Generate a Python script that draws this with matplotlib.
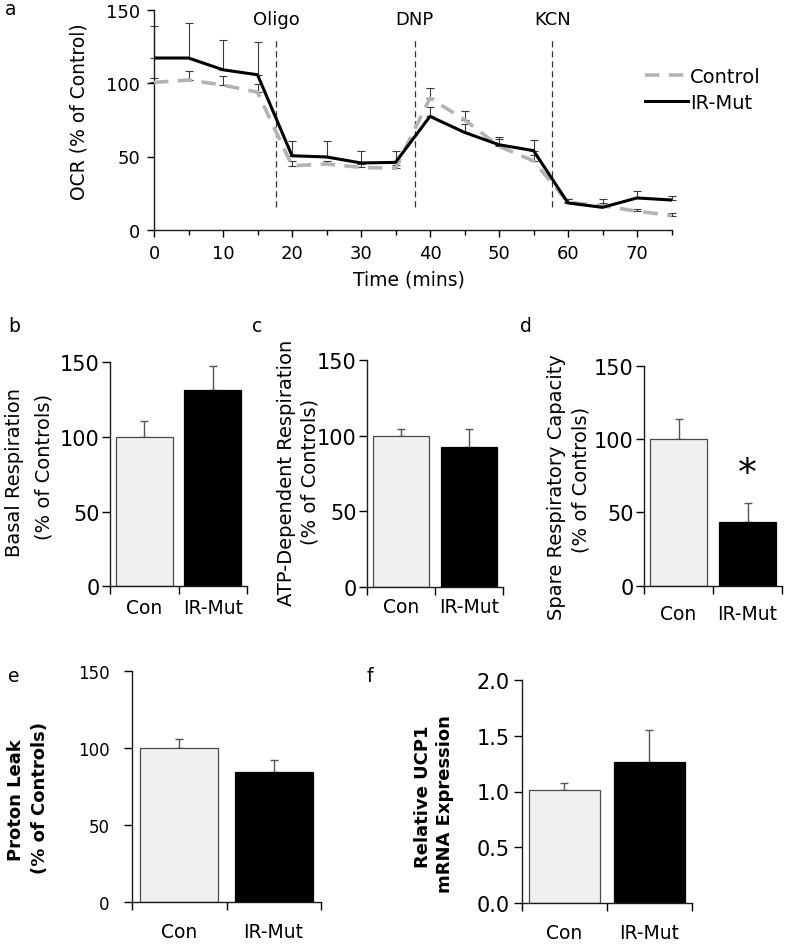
import matplotlib
matplotlib.use('Agg')
import matplotlib.pyplot as plt
from matplotlib.ticker import MultipleLocator

plt.rcParams['font.family'] = ['DejaVu Sans']

# ---------------- data ----------------
time_min = [0, 5, 10, 15, 20, 25, 30, 35, 40, 45, 50, 55, 60, 65, 70, 75]
ctrl_mean = [100.4, 102, 98.6, 93.7, 43.7, 44.9, 42.6, 42, 89.8, 75, 57, 47, 18.8, 16.5, 12.8, 9.8]
ctrl_err = [3, 6.4, 6.4, 5.6, 3, 2, 2, 2, 6.8, 6.2, 5, 4, 2, 2, 1.5, 1.6]
mut_mean = [117, 117, 109, 105.6, 50.5, 49.7, 45.6, 46, 77.3, 66.4, 58, 54, 18.4, 15.4, 21.8, 20.4]
mut_err = [21.5, 24, 20, 22, 10, 10.6, 8.4, 8, 6.6, 5.7, 5, 7, 2.6, 5.6, 4.4, 3]
injections = ['Oligo', 'DNP', 'KCN']
injection_times = [17.7, 37.8, 57.7]

groups = ['Con', 'IR-Mut']
basal = [100, 131.7]
basal_err = [10.5, 15.6]
atp = [99.5, 92.7]
atp_err = [5, 12]
spare = [100, 43.6]
spare_err = [14, 13]
leak = [100, 84.8]
leak_err = [6.3, 7.8]
ucp1 = [1.013, 1.267]
ucp1_err = [0.063, 0.283]

# ---------------- layout helpers ----------------
W, H = 787, 945
fig = plt.figure(figsize=(W / 100, H / 100), dpi=100)
fig.patch.set_facecolor('white')


def add_ax(l, r, t, b):
    return fig.add_axes([l / W, 1 - b / H, (r - l) / W, (b - t) / H])


def ftext(x, y, s, **kw):
    fig.text(x / W, 1 - y / H, s, **kw)


def style(ax):
    for s in ['top', 'right']:
        ax.spines[s].set_visible(False)
    for s in ['left', 'bottom']:
        ax.spines[s].set_linewidth(1.0)
        ax.spines[s].set_color('#1a1a1a')


def unclip(container):
    for art in container.lines:
        if isinstance(art, tuple):
            for a in art:
                a.set_clip_on(False)
        elif art is not None:
            art.set_clip_on(False)
    for coll in container[2]:
        coll.set_clip_on(False)


# ---------------- panel a ----------------
axa = add_ax(154, 671.5, 10.5, 231)
style(axa)
axa.set_xlim(0, 75)
axa.set_ylim(0, 150)
eb1 = axa.errorbar(time_min, ctrl_mean, yerr=[[0] * len(ctrl_err), ctrl_err], fmt='none',
                   ecolor='#3a3a3a', elinewidth=0.8, capsize=3, capthick=0.8, zorder=2)
eb2 = axa.errorbar(time_min, mut_mean, yerr=[[0] * len(mut_err), mut_err], fmt='none',
                   ecolor='#3a3a3a', elinewidth=0.8, capsize=3, capthick=0.8, zorder=2)
unclip(eb1)
unclip(eb2)
axa.plot(time_min, ctrl_mean, color='#b3b3b3', lw=2.6, dashes=(4, 2.6),
         label='Control', zorder=3)
axa.plot(time_min, mut_mean, color='black', lw=2.2, label='IR-Mut', zorder=4)
axa.vlines(injection_times, 15.6, 130, colors='#333333', linestyles=(0, (5, 3)), lw=0.9, zorder=1)
for name, t in zip(injections, injection_times):
    axa.text(t, 143.5, name, ha='center', va='center', fontsize=13, clip_on=False)
axa.set_xticks(range(0, 71, 10))
axa.xaxis.set_minor_locator(MultipleLocator(5))
axa.set_yticks([0, 50, 100, 150])
axa.tick_params(axis='both', which='major', labelsize=13, length=5, width=1, direction='out')
axa.tick_params(axis='x', which='major', pad=5)
axa.tick_params(axis='y', which='major', pad=5)
axa.tick_params(axis='x', which='minor', length=3.5, width=1)
leg = axa.legend(loc='upper left', bbox_to_anchor=(645 / W, 1 - 68 / H),
                 bbox_transform=fig.transFigure, frameon=False, fontsize=14,
                 borderpad=0, borderaxespad=0, handletextpad=0.1, handlelength=2.2,
                 labelspacing=0.35)
ftext(79, 112, 'OCR (% of Control)', rotation=90, ha='center', va='center', fontsize=13.5)
ftext(409, 280, 'Time (mins)', ha='center', va='center', fontsize=13.5)


# ---------------- bar panels ----------------
def bar_panel(ax, vals, errs, ylim, yticks, ylab_size, ypad, xpad, yfmt=None):
    style(ax)
    ax.set_xlim(-0.5, 1.5)
    ax.set_ylim(*ylim)
    ax.bar([0, 1], vals, width=0.83, color=['#f0f0f0', 'black'],
           edgecolor=['#4a4a4a', 'black'], linewidth=0.9, zorder=2)
    ax.errorbar([0, 1], vals, yerr=[[0, 0], errs], fmt='none', ecolor='#555555',
                elinewidth=1.0, capsize=2.8, capthick=1.0, zorder=1)
    ax.set_yticks(yticks)
    if yfmt:
        ax.set_yticklabels([yfmt.format(v) for v in yticks])
    ax.set_xticks([0, 1])
    ax.set_xticklabels(groups)
    ax.set_xticks([-0.5, 0.5, 1.5], minor=True)
    ax.tick_params(axis='x', which='major', length=0, labelsize=13.5, pad=xpad)
    ax.tick_params(axis='x', which='minor', length=5.5, width=1, direction='out')
    ax.tick_params(axis='y', which='major', length=5.5, width=1, direction='out',
                   labelsize=ylab_size, pad=ypad)


axb = add_ax(110, 247, 363.3, 587.3)
bar_panel(axb, basal, basal_err, (0, 150), [0, 50, 100, 150], 15, 2, 8.6)
axc = add_ax(367, 503, 361, 588)
bar_panel(axc, atp, atp_err, (0, 150), [0, 50, 100, 150], 15, 2, 7.2)
axd = add_ax(644, 782, 366.7, 586.7)
bar_panel(axd, spare, spare_err, (0, 150), [0, 50, 100, 150], 15, 2, 13)
axd.text(1, 69.5, '*', ha='center', va='baseline', fontsize=27)
axe = add_ax(132.3, 320.7, 672.3, 903.3)
bar_panel(axe, leak, leak_err, (0, 150), [0, 50, 100, 150], 12, 11, 14.4)
axf = add_ax(521.7, 692, 681, 904)
bar_panel(axf, ucp1, ucp1_err, (0, 2.0), [0, 0.5, 1.0, 1.5, 2.0], 15, 3, 14.4, '{:.1f}')

# y labels
ftext(15, 472.5, 'Basal Respiration', rotation=90, ha='center', va='center', fontsize=14)
ftext(44, 467, '(% of Controls)', rotation=90, ha='center', va='center', fontsize=14)
ftext(286, 473, 'ATP-Dependent Respiration', rotation=90, ha='center', va='center', fontsize=14)
ftext(310, 472, '(% of Controls)', rotation=90, ha='center', va='center', fontsize=14)
ftext(556, 487, 'Spare Respiratory Capacity', rotation=90, ha='center', va='center', fontsize=14)
ftext(581, 480, '(% of Controls)', rotation=90, ha='center', va='center', fontsize=14)
ftext(16, 800, 'Proton Leak', rotation=90, ha='center', va='center', fontsize=13, fontweight='bold')
ftext(40, 798, '(% of Controls)', rotation=90, ha='center', va='center', fontsize=13, fontweight='bold')
ftext(423, 797, 'Relative UCP1', rotation=90, ha='center', va='center', fontsize=13, fontweight='bold')
ftext(445, 804, 'mRNA Expression', rotation=90, ha='center', va='center', fontsize=13, fontweight='bold')

# panel letters
for letter, (x, y) in zip('abcdef', [(5, 15), (8, 331.7), (252, 331.7), (520, 331.7),
                                     (8, 681.7), (367, 681.7)]):
    ftext(x, y, letter, ha='left', va='baseline', fontsize=13.5)

fig.savefig('out.png', dpi=100, facecolor='white')
